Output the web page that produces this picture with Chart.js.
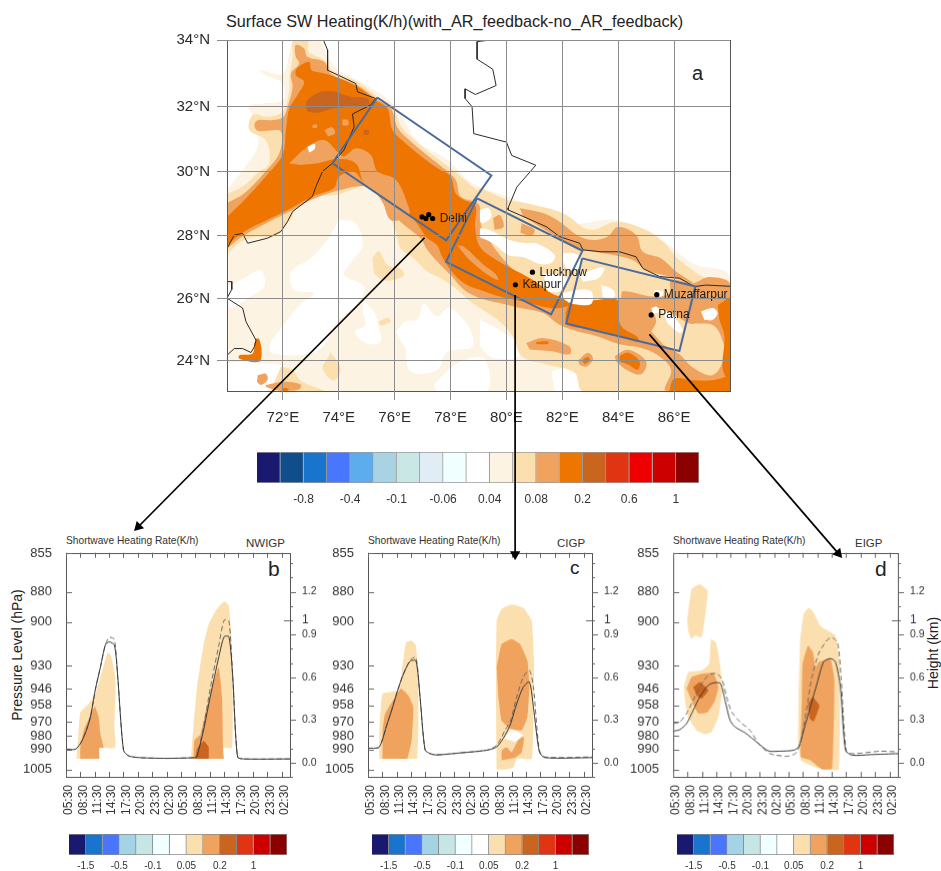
<!DOCTYPE html>
<html><head><meta charset="utf-8">
<script src="https://cdn.jsdelivr.net/npm/chart.js@4"></script>
<style>
html,body{margin:0;padding:0;background:#fff;width:941px;height:871px;overflow:hidden;font-family:"Liberation Sans",Arial,sans-serif;color:#222}
canvas{position:absolute}
.t{position:absolute;white-space:nowrap;line-height:1}
</style></head><body>
<script>
// ---------- palette ----------
const mainColors=['#191970','#104E8B','#1874CD','#4876FF','#5CACEE','#A9D3E3','#C9E8E5','#E1EDF5','#F0FFFF','#FFFFFF','#FDF3E3','#FCDFAE','#F0A35E','#EE7600','#C9651E','#E03412','#EE0000','#CD0000','#8B0000'];
const mainBarLabels=['-0.8','-0.4','-0.1','-0.06','0.04','0.08','0.2','0.6','1'];
const smallColors=['#191970','#1874CD','#4876FF','#A4D3E6','#C6E6E6','#F0FFFF','#FFFFFF','#FCDFAE','#F0A35E','#C9651E','#E03412','#CD0000','#8B0000'];
const smallBarLabels=['-1.5','-0.5','-0.1','0.05','0.2','1'];
const CREAM='#FDF3E3',WHITE='#FFFFFF',LIGHT='#FCDFAE',MID='#F0A35E',ORANGE='#EE7600',DARK='#C9651E';

// ---------- map axes ----------
const lonTicks=[72,74,76,78,80,82,84,86];
const latTicks=[24,26,28,30,32,34];

// ---------- map contours [lon,lat] ----------
const creamBase=[[70,29.45],[70.6,30.1],[71.1,30.8],[71,31.6],[70.5,32.3],[70.5,33],[71.2,33.1],[72,33],[72.3,33.9],[72.4,34],[73.3,34],[73.6,33.5],[74,33.1],[75,32.65],[76.05,32],[76.8,30.97],[77.9,30.37],[78.77,29.66],[80,29.25],[81.1,28.9],[82.35,28.4],[83.95,28.5],[85.43,27.95],[86.67,27.13],[88,26.7],[88,23],[70,23]];
const whiteS1=[[74.01,28.51],[74.61,28.4],[74.85,27.71],[74.37,27.08],[74.19,26.76],[74.9,26.39],[74.73,25.91],[73.95,25.26],[73.36,24.39],[72.52,24.17],[71.51,24.34],[72.11,25.26],[72.67,25.86],[73.12,26.18],[72.4,26.29],[72.29,26.87],[73,27.29],[73.6,27.87]];
const whiteS2=[[70,26.39],[70.62,26.66],[71.21,26.92],[71.33,26.39],[70.74,26.02],[70.14,25.7],[70,25.9]];
const whiteS3=[[74.9,25.91],[75.26,25.58],[75.44,25.04],[75.5,24.61],[75.02,24.55],[74.57,24.93],[74.96,25.15],[74.85,25.53]];
const whiteS4=[[76.04,24.93],[76.4,25.28],[76.81,25.32],[77.05,25.83],[77.52,25.43],[77.94,25.7],[78.65,25.1],[78.77,24.45],[77.88,24.28],[77.52,23.69],[76.57,23.64],[76.39,24.39]];
const whiteS5=[[77.4,23.21],[78.24,23.9],[79.19,24.07],[79.3,23],[77.5,23]];
const whiteS6=[[70,23.9],[70.44,23.96],[71.21,23.9],[71.93,23.85],[72.17,23.69],[71.39,23],[70.68,23],[70,23]];
const whiteS7=[[79.05,25.32],[79.64,25.05],[80.36,24.57],[80.48,24.14],[79.52,24.09],[79.05,24.46]];
const whiteS8=[[81.61,23.65],[82.38,23.75],[82.74,23],[81.73,23]];
const whiteN1=[[70,30],[70,34],[72,34],[71.2,33.1],[72,32.7],[72,32.2],[71.3,32.1],[70.8,32],[70.5,31],[70.4,30.4]];
const lightMain=[[70,29.32],[70.56,29.55],[71.1,29.97],[71.51,30.27],[71.39,30.98],[70.8,31.29],[70.92,31.75],[71.45,31.7],[71.99,31.85],[72.23,32.5],[72.23,32.9],[72.35,33.5],[72.38,34],[72.88,34],[72.94,33.65],[73.48,33.4],[73.77,33.1],[74.67,32.75],[75.38,32.3],[75.92,32],[76.21,31.44],[76.57,31.09],[77.05,30.73],[77.76,30.27],[78.36,29.86],[78.95,29.45],[79.05,29.5],[80,29.14],[80.71,29.03],[82.02,28.72],[82.98,28.19],[83.93,28.45],[85,28.19],[85.6,27.82],[86.19,27.24],[87.14,26.66],[88,26.5],[88,23],[82.74,23],[82.44,23.6],[81.43,23.87],[80.54,24.14],[80.24,24.78],[79.76,25.27],[79.05,25.7],[78.71,25.91],[78.24,26.29],[77.64,26.66],[77.17,26.87],[76.69,27.29],[76.21,27.61],[76.04,28.14],[75.8,28.67],[75.5,29.24],[74.9,29.55],[73.95,29.29],[73.12,29.24],[72.52,28.92],[72.29,28.55],[71.69,27.98],[71.1,27.98],[70.5,27.82],[70,27.42]];
const lightB1=[[75.2,27.29],[75.44,27.52],[75.74,27.08],[76.21,26.97],[76.33,26.74],[75.62,26.58],[75.26,26.82]];
const lightB2=[[75.42,25.26],[75.74,25.39],[75.86,25.26],[75.5,25.12]];
const lightB3=[[73.71,24.28],[74.07,23.74],[73.83,23.34],[73.42,23.74],[73.6,24.07]];
const lightB4=[[71.93,23.8],[72.35,23.69],[72.64,23.34],[73.36,23.06],[73.48,23],[71.57,23]];
const midMain=[[70,29.03],[70.62,29.34],[71.33,29.97],[71.87,30.58],[71.93,31.24],[71.45,31.27],[71.1,31.27],[70.98,31.44],[71.1,31.59],[71.57,31.59],[72,31.68],[72.17,32],[72.35,32.6],[72.29,33],[72.58,33.3],[72.46,33.5],[72.46,33.85],[72.76,33.75],[72.88,33.5],[73.48,33.35],[73.71,33],[74.67,32.65],[75.32,32.25],[75.86,31.95],[76.1,31.37],[76.45,31.04],[76.93,30.68],[77.64,30.19],[78.18,29.76],[78.36,29.24],[79,29],[79.1,28.3],[79.29,27.98],[79.76,27.4],[80.24,26.94],[80.83,26.44],[81.73,26.07],[82.26,25.84],[83.1,25.91],[84.05,25.99],[84.17,26.24],[85.24,26.07],[85.83,26.18],[85.89,26.6],[86.67,26.5],[87.26,26.7],[88,26.45],[88,23],[85.71,23],[85.89,23.7],[85.36,24.2],[84.76,24.42],[84.05,24.53],[83.21,24.8],[82.5,24.96],[81.85,25.19],[81.31,25.54],[80.48,25.7],[79.76,25.86],[79.05,26.02],[78.48,26.29],[78,26.76],[77.64,27.08],[77.17,27.56],[76.93,27.93],[76.57,28.19],[76.21,28.45],[75.98,28.67],[75.86,28.55],[75.5,29.15],[75.02,29.55],[73.95,29.42],[73.06,29.15],[72.23,28.76],[71.51,28.45],[70.62,28.03],[70,27.6]];
const midHills=[[80.48,28.87],[81.31,28.72],[81.9,28.45],[82.62,27.98],[83.15,27.87],[83.63,27.98],[83.99,28.29],[84.64,28.03],[84.88,27.5],[85.54,27.29],[86.07,26.87],[86.67,26.5],[85.83,26.71],[85,26.92],[84.52,27.24],[83.81,27.4],[83.1,27.5],[82.5,27.6],[81.79,27.98],[81.19,28.29],[80.6,28.61]];
const midB1=[[83.87,24.14],[84.35,24.35],[85,23.97],[84.82,23.55],[84.29,23.7],[83.93,23.97]];
const midB2=[[80.71,24.57],[81.31,24.73],[82.26,24.46],[82.26,24.2],[81.61,24.3],[80.83,24.36]];
const midB3=[[82.56,24],[82.92,24.25],[83.1,24.05],[82.86,23.8],[82.62,23.85]];
const midB4=[[79.52,28.56],[79.76,28.66],[79.9,28.29],[79.58,28.19]];
const midB5=[[80.54,28.4],[81,28.2],[80.9,28],[80.5,28.1]];
const midB6=[[71.1,23.52],[71.39,23.57],[71.45,23.36],[71.21,23.2],[71.07,23.3]];
const midB7=[[71.39,23.2],[72.05,23.3],[72.64,23.21],[72.58,23.05],[71.93,23],[71.39,23.13]];
const lightEast=[[85.18,24.95],[85.36,25.27],[85.24,25.7],[85.71,25.62],[86.55,25.2],[86.79,25.2],[87.38,25.15],[87.68,24.78],[87.8,24.14],[87.38,23.52],[86.67,23.77],[86.19,24.2],[85.6,24.52]];
const orangeMain=[[70,28.6],[70.62,29.13],[71.45,29.92],[71.99,30.53],[72.11,31.29],[72.23,31.95],[72.52,32.35],[72.76,32.75],[72.46,32.95],[72.5,33.15],[72.94,33.35],[73.02,33.1],[73.24,33.05],[73.71,32.95],[74.67,32.6],[75.26,32.22],[75.74,31.95],[75.92,31.29],[76.33,30.93],[76.81,30.58],[77.52,30.12],[78,29.86],[78.18,29.34],[78.48,29.13],[78.89,28.96],[78.88,28.3],[79.05,27.66],[79.64,27.24],[80.12,27],[80.95,26.6],[81.61,26.18],[82.02,26.02],[82.26,25.8],[81.61,25.7],[80.6,25.91],[79.76,26.07],[79.23,26.23],[78.48,26.5],[78,26.92],[77.7,27.34],[77.52,27.71],[77.17,27.93],[76.99,28.14],[76.75,28.45],[76.51,28.67],[75.86,28.56],[75.5,29.24],[74.9,29.65],[74.55,30],[74.01,29.86],[73.83,29.5],[73.06,29.24],[72.17,28.82],[71.45,28.51],[70.62,28.14],[70,27.71]];
const orangeBlock=[[82.26,25.95],[83.1,25.95],[83.95,25.97],[84.02,25.32],[84.17,25.05],[84.67,24.78],[84.74,24.6],[83.93,24.83],[83.21,25],[82.17,25.16],[82.12,25.54]];
const orangeEast=[[87.56,25.8],[88,25.97],[88,23.3],[87.74,23.73],[87.8,24.78],[87.62,25.32]];
const orangeSE=[[85.83,23],[86,23.4],[86.67,23.35],[87.38,23.35],[88,23.45],[88,23]];
const orangeB1=[[84.05,24.15],[84.35,24.25],[84.76,23.98],[84.7,23.7],[84.35,23.87],[84.05,23.97]];
const orangeB2=[[81.07,24.6],[81.49,24.62],[81.49,24.54],[81.07,24.54]];
const orangeB3=[[82.7,24],[82.92,24.12],[82.98,24],[82.8,23.88]];
const orangeSW=[[71.04,24.72],[71.15,24.7],[71.24,24.28],[71.15,23.96],[70.44,24.06],[70.44,24.17],[70.92,24.23],[70.98,24.55]];
const orangeSW2=[[71.99,23.1],[72.2,23.08],[72.15,23],[71.99,23]];
const midIsland=[[72.23,30.27],[72.88,30.78],[73.48,30.98],[73.95,30.63],[74.19,30.48],[74.61,30.73],[75.14,30.53],[75.38,30.02],[76.04,29.76],[76.45,29.03],[76.51,28.66],[75.86,28.5],[75.5,29.24],[74.9,29.65],[74.61,30.27],[73.95,30.4],[73.24,30.27],[72.64,30.22]];
const midSpot1=[[74.13,31.61],[74.33,31.59],[74.33,31.44],[74.13,31.44]];
const midSpot2=[[73.48,31.29],[73.77,31.37],[73.87,31.19],[73.62,31.09]];
const midSpot3=[[73.06,31.44],[73.21,31.46],[73.21,31.36],[73.06,31.36]];
const midStripe=[[78.24,27.71],[78.48,27.66],[79.19,27.08],[79.6,26.8],[79.7,26.6],[79.2,26.85],[78.6,27.3]];
const darkIsland=[[72.82,32],[72.88,32.2],[73.36,32.45],[73.83,32.45],[74.43,32.3],[75.02,32.25],[75.08,32.05],[74.43,32],[73.83,31.95],[73.24,31.82],[72.88,31.85]];
const darkSpot=[[74.9,31.31],[75.08,31.27],[75.05,31.14],[74.88,31.17]];
const whiteT1=[[79.05,28.24],[79.4,28.19],[80.12,27.87],[80.71,27.77],[81.07,27.77],[81.73,27.4],[81.61,27.15],[81.19,27.11],[80.65,27.32],[80.06,27.4],[79.52,27.77],[79.05,27.96]];
const whiteT2=[[79.05,28.82],[79.35,28.87],[79.46,28.61],[79.17,28.4],[79.05,28.45]];
const whiteT3=[[82.02,27.47],[82.56,27.4],[82.62,27],[82.2,26.94],[82.02,27.18]];
const whiteT4=[[81.31,26.81],[81.96,26.76],[82.2,26.6],[81.9,26.23],[81.49,26.23]];
const whiteT5=[[82.02,26.18],[82.62,26.29],[83.04,26.23],[83.04,25.84],[82.44,25.82],[82.08,25.97]];
const whiteT6=[[83.39,26.44],[83.81,26.29],[83.87,26.06],[83.45,26.05]];
const whiteT7=[[82.62,26.76],[83.21,26.97],[83.51,26.97],[83.27,26.65],[82.74,26.55]];
const whiteT8=[[85.18,25.7],[85.36,25.75],[85.48,25.6],[85.24,25.5]];
const whiteT9=[[85.54,25.7],[86.01,25.38],[86.31,25],[86.19,24.89],[85.77,25.2]];
const whiteT10=[[86.96,25.59],[87.38,25.7],[87.56,25.54],[87.38,25.32],[87.08,25.32]];
const whiteT11=[[85.3,26.28],[85.6,26.23],[85.54,26.07],[85.3,26.12]];
const whiteT12=[[72.88,30.78],[73.14,30.86],[73.14,30.71],[72.94,30.6]];

// ---------- borders, study boxes, cities ----------
const borderWest=[[73.45,34],[73.6,33.7],[73.6,33.1],[74.61,32.7],[74.67,32.45],[75.32,32.25],[75.14,32.05],[74.49,31.78],[74.55,31.39],[74.19,30.68],[73.77,30.27],[73.42,30.02],[73.18,29.55],[73.06,29.24],[72.35,28.77],[72.17,28.46],[71.93,28.14],[71.45,27.93],[70.74,27.77],[70.56,28.08],[70.26,28.03],[70,27.6]];
const borderSW=[[70,26.55],[70.17,26.55],[70.17,26.3],[70,26.02],[70.56,25.7],[70.68,25.26],[71.04,24.66],[70.98,24.45],[70.86,24.26],[70.56,24.39],[70.26,24.39],[70,24.17]];
const borderNepal=[[79.41,34],[78.95,33.95],[78.95,33.43],[79.51,33.13],[79.63,32.64],[78.89,32.37],[78.52,32.54],[78.52,32.25],[78.77,32],[78.83,31.18],[80,30.92],[80.19,30.51],[81.05,30.21],[80.37,29.53],[80.06,28.88],[80.06,28.82],[80.48,28.66],[81.43,28.29],[81.9,27.98],[82.62,27.77],[82.74,27.56],[83.39,27.5],[84.05,27.5],[84.64,27.34],[84.88,26.97],[85.48,26.71],[86.19,26.66],[86.73,26.39],[87.14,26.44],[88,26.4]];
const boxNW=[[75.38,32.28],[79.46,29.89],[77.84,27.86],[73.77,30.27],[75.38,32.28]];
const boxC=[[78.95,29.18],[82.72,27.53],[81.6,25.5],[77.84,27.18],[78.95,29.18]];
const boxE=[[82.71,27.29],[86.76,26.39],[86.19,24.31],[82.14,25.2],[82.71,27.29]];
const cityLon=[76.98,77.12,77.22,77.36,80.93,80.32,85.38,85.18];
const cityLat=[28.6,28.55,28.67,28.55,26.85,26.45,26.13,25.48];
const cityNames=['','','','Delhi','Lucknow','Kanpur','Muzaffarpur','Patna'];

// ---------- profile panels ----------
const timeLabels=['05:30','08:30','11:30','14:30','17:30','20:30','23:30','02:30','05:30','08:30','11:30','14:30','17:30','20:30','23:30','02:30'];
const hourTicks=[0,3,6,9,12,15,18,21,24,27,30,33,36,39,42,45];
const pressureTicks=[855,880,900,930,946,958,970,980,990,1005];
const heightLabelled=[0,0.3,0.6,0.9,1,1.2];
const heightMinor=[-0.1,0,0.1,0.2,0.3,0.4,0.5,0.6,0.7,0.8,0.9,1.1,1.2,1.3,1.4];

const bLight1=[[2.16,996.9],[2.44,985.8],[2.99,962.9],[4.73,956.8],[6.12,949.6],[7.17,937.9],[8.7,920.7],[9.39,923],[10.3,937.9],[10.3,952],[10.09,973.7],[10.3,988.8],[6.96,988.8],[6.96,996.9]];
const bMid1=[[2.99,996.9],[2.99,988.3],[3.69,976],[4.73,967.7],[5.98,958.7],[6.82,966.4],[7.17,978.4],[7.86,988.8],[6.96,988.8],[6.96,996.9]];
const bLight2=[[26.1,996.9],[26.3,985.8],[27.35,944.8],[28.74,915],[29.78,901.4],[31.52,891.2],[33.06,886.2],[33.96,888.9],[34.45,905.9],[34.8,952],[34.66,988.8],[32.78,988.8],[32.92,996.9]];
const bMid2=[[26.65,996.9],[26.79,983.3],[28.04,979],[28.88,966.4],[30.48,944.8],[31.87,931],[32.57,952],[32.78,988.8],[32.92,996.9]];
const bDark2=[[27,996.9],[27.35,989.5],[28.74,983.8],[29.78,988.3],[29.78,996.9]];
const bHours=[0,1.95,3,4,5.1,6.1,7.2,8.2,9,10.1,10.8,12,13.1,15.5,21.1,26.9,27.3,28.7,30.1,31.9,33,34,34.8,35.8,37.1,46.8];
const bSolidKm=[0.094,0.094,0.134,0.204,0.321,0.509,0.673,0.825,0.848,0.825,0.602,0.087,0.047,0.035,0.03,0.035,0.04,0.227,0.462,0.743,0.884,0.884,0.602,0.04,0.026,0.026];
const bDashKm=[0.094,0.094,0.134,0.204,0.321,0.509,0.673,0.825,0.879,0.865,0.602,0.087,0.047,0.035,0.03,0.035,0.04,0.251,0.52,0.825,1,0.996,0.602,0.04,0.026,0.026];

const cLight1=[[2.37,996.9],[2.37,976],[2.85,952],[3.2,949.1],[4.59,948.4],[6.33,947.2],[7.03,934.4],[7.93,913.9],[9.12,912.7],[10.02,916.1],[10.51,940.2],[10.51,976],[10.3,996.9]];
const cMid1=[[3.06,996.9],[3.06,976],[3.55,964.1],[5.64,952],[6.89,946],[8.42,950.9],[9.46,959.2],[9.12,983.3],[8.21,996.9]];
const cLight2=[[26.86,1005],[26.72,952],[26.86,899.1],[27.9,891.2],[29.99,888.3],[32.43,890.5],[34.17,899.1],[34.66,928.6],[34.52,966.4],[34.17,996.9],[31.04,996.9],[30.34,1003.5],[28.6,1005]];
const cMid2=[[26.86,931],[27.9,915],[29.99,911.6],[31.73,915],[33.26,926.4],[33.68,944.8],[33.26,966.4],[32.08,976],[29.65,974.8],[27.9,969],[27.21,952]];
const cMid3=[[27.9,998],[27.9,990.7],[28.95,988.3],[29.99,992],[31.73,980.7],[32.57,981.2],[32.08,992],[30.69,996.2]];
const cWhite=[[28.46,981.9],[29.99,975.3],[32.43,979.5],[30.69,984.5],[29.99,983.8]];
const cHours=[0,2.16,2.85,3.9,4.94,5.98,7.03,8.07,8.91,10.02,10.86,11.9,12.94,14.34,19.21,24.77,26.86,28.6,29.78,31.04,32.43,33.68,34.52,35.77,36.95,46.83];
const cSolidKm=[0.101,0.105,0.145,0.262,0.368,0.485,0.591,0.673,0.715,0.715,0.462,0.091,0.063,0.054,0.068,0.087,0.11,0.192,0.274,0.415,0.532,0.567,0.391,0.075,0.035,0.035];
const cDashKm=[0.101,0.105,0.145,0.262,0.368,0.485,0.591,0.673,0.724,0.738,0.462,0.091,0.063,0.054,0.068,0.087,0.122,0.227,0.298,0.462,0.602,0.649,0.532,0.087,0.04,0.04];

const dLightTop=[[2.92,899.1],[3.83,878.2],[5.57,874.9],[7.17,879.3],[6.61,897],[5.92,910.4],[4.52,909.2],[3.83,911.6],[3.13,905.9]];
const dLight1=[[2.23,944.8],[3.13,934.4],[5.92,933.3],[7.52,928.6],[7.86,911.6],[8.91,913.9],[9.74,928.6],[10.23,947.2],[9.39,966.4],[7.99,977.2],[6.61,978.8],[4.87,976],[3.13,966.4],[2.44,954.4]];
const dMid1=[[2.78,946],[3.83,937.9],[5.92,935.6],[8.35,935],[9.39,944.8],[8.7,954.4],[7.1,962.9],[5.22,963.6],[3.83,954.4]];
const dDark1=[[4.18,944.8],[5.57,941.3],[7.31,947.2],[5.92,953.2],[4.87,950.9]];
const dLight2=[[26.1,952],[26.44,912.7],[27.14,894.7],[28.18,890.5],[29.23,893.6],[30.62,902.7],[33.75,909.2],[34.66,928.6],[34.45,1004.8],[30.97,1004.8],[28.53,1001.9],[26.58,998],[25.96,985]];
const dMid2=[[26.79,952],[26.93,928.6],[28.04,916.1],[29.09,920.7],[29.58,931],[30.27,927.4],[32.71,925.2],[33.54,940.2],[33.05,1004.3],[30.97,1004.8],[28.53,998],[26.58,995.7],[26.58,976]];
const dDark2=[[28.04,956.8],[29.02,952],[30.41,958],[29.23,969.5],[28.39,967.5]];
const dSolidHours=[0,1.39,2.78,4.18,5.57,7.31,8.7,9.88,10.79,11.83,12.87,14.96,17.75,19.83,22.27,25.05,26.1,27.14,28.53,29.92,31.32,32.71,33.75,34.79,35.84,37.23,41.06,46.83];
const dSolidKm=[0.22,0.232,0.274,0.368,0.462,0.544,0.562,0.555,0.438,0.298,0.251,0.209,0.134,0.082,0.08,0.087,0.11,0.227,0.391,0.555,0.708,0.731,0.708,0.532,0.087,0.052,0.056,0.063];
const dDashHours=[0,1.39,2.78,4.18,5.57,7.31,8.91,10.09,11.13,12.18,13.92,16,17.75,20.18,23.66,25.4,26.44,27.49,28.88,30.27,32.02,33.06,34.24,34.93,36.05,37.58,43.14,46.83];
const dDashKm=[0.274,0.286,0.345,0.438,0.532,0.614,0.626,0.591,0.462,0.356,0.286,0.227,0.134,0.063,0.045,0.063,0.134,0.321,0.602,0.766,0.86,0.879,0.837,0.602,0.075,0.063,0.08,0.075];

// ---------- pointer arrows between panels (page units) ----------
const arrowNW={x:[424,134],y:[235,528],angle:225};
const arrowC={x:[515.7,515.7],y:[293,556],angle:180};
const arrowE={x:[651.7,843],y:[333,555],angle:139};

// ---------- helpers ----------
const FONT='"Liberation Sans",Arial,sans-serif';
const merc=lat=>Math.asinh(Math.tan(lat*Math.PI/180));
function makeCanvas(l,t,w,h,z){
  const c=document.createElement('canvas');
  c.style.left=l+'px';c.style.top=t+'px';c.style.width=w+'px';c.style.height=h+'px';c.style.zIndex=z||1;
  c.width=w;c.height=h;document.body.appendChild(c);return c.getContext('2d');
}
function text(s,l,t,size,extra){
  const d=document.createElement('div');d.className='t';d.textContent=s;
  d.style.left=l+'px';d.style.top=t+'px';d.style.fontSize=size+'px';
  if(extra)Object.assign(d.style,extra);
  document.body.appendChild(d);return d;
}
const baseOpts={responsive:false,animation:false,events:[],plugins:{legend:{display:false},tooltip:{enabled:false},title:{display:false}}};
const noPadY=s=>{s.paddingTop=0;s.paddingBottom=0;};
const noPadX=s=>{s.paddingLeft=0;s.paddingRight=0;};

// ---------- map ----------
const mapLayers=[
 [creamBase,CREAM],[whiteN1,WHITE],[whiteS1,WHITE],[whiteS2,WHITE],[whiteS3,WHITE],[whiteS4,WHITE],[whiteS5,WHITE],[whiteS6,WHITE],[whiteS7,WHITE],[whiteS8,WHITE],
 [lightMain,LIGHT],[lightB1,LIGHT],[lightB2,LIGHT],[lightB3,LIGHT],[lightB4,LIGHT],
 [midMain,MID],[midHills,MID],[midB1,MID],[midB2,MID],[midB3,MID],[midB4,MID],[midB5,MID],[midB6,MID],[midB7,MID],
 [lightEast,LIGHT],
 [orangeMain,ORANGE],[orangeBlock,ORANGE],[orangeEast,ORANGE],[orangeSE,ORANGE],[orangeB1,ORANGE],[orangeB2,ORANGE],[orangeB3,ORANGE],[orangeSW,ORANGE],[orangeSW2,ORANGE],
 [midIsland,MID],[midSpot1,MID],[midSpot2,MID],[midSpot3,MID],[midStripe,MID],
 [darkIsland,DARK],[darkSpot,DARK],
 [whiteT1,WHITE],[whiteT2,WHITE],[whiteT3,WHITE],[whiteT4,WHITE],[whiteT5,WHITE],[whiteT6,WHITE],[whiteT7,WHITE],[whiteT8,WHITE],[whiteT9,WHITE],[whiteT10,WHITE],[whiteT11,WHITE],[whiteT12,WHITE]
];
const toXY=a=>a.map(p=>({x:p[0],y:merc(p[1])}));
const mapSets=[];
mapLayers.forEach(([poly,col])=>mapSets.push({data:toXY(poly),showLine:true,fill:'shape',backgroundColor:col,borderWidth:0,pointRadius:0,tension:0.35}));
[borderWest,borderSW,borderNepal].forEach(b=>mapSets.push({data:toXY(b),showLine:true,fill:false,borderColor:'#2a2a2a',borderWidth:1,pointRadius:0,tension:0}));
[boxNW,boxC,boxE].forEach(b=>mapSets.push({data:toXY(b),showLine:true,fill:false,borderColor:'#4A6A9E',borderWidth:2,pointRadius:0,tension:0}));
mapSets.push({data:cityLon.map((x,i)=>({x,y:merc(cityLat[i])})),showLine:false,pointRadius:2.6,pointBackgroundColor:'#000',pointBorderWidth:0});
mapSets.forEach((d,i)=>d.order=mapSets.length-i);

const frame={id:'frame',afterDatasetsDraw(ch){const a=ch.chartArea,c=ch.ctx;c.save();c.strokeStyle='#555';c.lineWidth=1;c.strokeRect(Math.round(a.left)+.5,Math.round(a.top)+.5,Math.round(a.width),Math.round(a.height));c.restore();}};
const cityText={id:'cityText',afterDatasetsDraw(ch){const c=ch.ctx,xs=ch.scales.x,ys=ch.scales.y;c.save();c.font='12px '+FONT;c.fillStyle='#1a1a1a';c.textBaseline='middle';
 cityNames.forEach((n,i)=>{if(n)c.fillText(n,xs.getPixelForValue(cityLon[i])+7,ys.getPixelForValue(merc(cityLat[i])));});c.restore();}};

const mapL=227,mapT=40,mapW=503,mapH=351,cL=165,cT=28;
new Chart(makeCanvas(cL,cT,mapL+mapW+15-cL,mapT+mapH+45-cT),{type:'scatter',data:{datasets:mapSets},plugins:[frame,cityText],options:{...baseOpts,
 layout:{padding:{top:mapT-cT,right:15,left:0,bottom:0}},
 scales:{
  x:{type:'linear',min:70,max:88,afterBuildTicks:s=>{s.ticks=lonTicks.map(v=>({value:v}));},afterFit:s=>{s.height=45;noPadX(s);},
     grid:{color:'#8c8c8c',lineWidth:1,tickLength:9,z:1},border:{display:false},
     ticks:{autoSkip:false,maxRotation:0,padding:9,font:{family:FONT,size:15},color:'#2a2a2a',callback:v=>v+'°E'}},
  y:{type:'linear',min:merc(23),max:merc(34),afterBuildTicks:s=>{s.ticks=latTicks.map(v=>({value:merc(v)}));},afterFit:s=>{s.width=mapL-cL;noPadY(s);},
     grid:{color:'#8c8c8c',lineWidth:1,tickLength:10,z:1},border:{display:false},
     ticks:{autoSkip:false,padding:7,font:{family:FONT,size:15},color:'#2a2a2a',callback:(v,i)=>latTicks[i]+'°N'}}
 }}});

// ---------- colour bars ----------
function colorBar(left,top,width,height,colors,labels,firstTick,size,gap,bcol){
  const pad=24,foot=gap+size+6;
  new Chart(makeCanvas(left-pad,top,width+2*pad,height+foot),{type:'bar',
   data:{labels:[''],datasets:colors.map(c=>({data:[1],backgroundColor:c,borderColor:bcol,borderWidth:1,barPercentage:1,categoryPercentage:1}))},
   options:{...baseOpts,indexAxis:'y',layout:{padding:{left:pad,right:pad,top:0,bottom:0}},
    scales:{y:{stacked:true,display:false},
     x:{stacked:true,type:'linear',min:0,max:colors.length,afterBuildTicks:s=>{s.ticks=labels.map((l,i)=>({value:firstTick+2*i}));},afterFit:s=>{s.height=foot;noPadX(s);},
        grid:{display:false,drawTicks:false},border:{display:false},
        ticks:{autoSkip:false,maxRotation:0,padding:gap,font:{family:FONT,size},color:'#333',callback:(v,i)=>labels[i]}}}}});
}
colorBar(257,452,442,31,mainColors,mainBarLabels,2,12,9,'#9a9a9a');
colorBar(69,834,218,21,smallColors,smallBarLabels,1,10,5,'#888');
colorBar(372,834,217,21,smallColors,smallBarLabels,1,10,5,'#888');
colorBar(677,834,217,21,smallColors,smallBarLabels,1,10,5,'#888');

// ---------- profile panels ----------
const panelTicks={id:'panelTicks',afterDatasetsDraw(ch){
  const c=ch.ctx,a=ch.chartArea,x=ch.scales.x,y=ch.scales.y,k=ch.scales.km;
  c.save();c.strokeStyle='#666';c.lineWidth=1;c.beginPath();
  hourTicks.forEach(h=>{const p=Math.round(x.getPixelForValue(h))+.5;c.moveTo(p,a.bottom);c.lineTo(p,a.bottom-5);c.moveTo(p,a.top);c.lineTo(p,a.top+5);});
  pressureTicks.forEach(v=>{const p=Math.round(y.getPixelForValue(v))+.5;c.moveTo(a.left,p);c.lineTo(a.left+6,p);});
  heightMinor.forEach(v=>{const p=Math.round(k.getPixelForValue(v))+.5;const lab=heightLabelled.includes(v);c.moveTo(a.right,p);c.lineTo(a.right+(lab?6:3),p);});
  const one=Math.round(k.getPixelForValue(1))+.5;c.moveTo(a.right-6,one);c.lineTo(a.right+3,one);
  c.stroke();c.restore();}};
function panel(plotLeft,polys,lines){
  const top=552.7,h=224,w=224.3,mL=50,mR=45,foot=50,cTop=540;
  const sets=[];
  polys.forEach(([p,col])=>sets.push({data:p.map(q=>({x:q[0],y:q[1]})),yAxisID:'y',showLine:true,fill:'shape',backgroundColor:col,borderWidth:0,pointRadius:0,tension:0.12}));
  lines.forEach(([hrs,km,dash,col])=>sets.push({data:hrs.map((t,i)=>({x:t,y:km[i]})),yAxisID:'km',showLine:true,fill:false,borderColor:col,borderWidth:1,borderDash:dash,pointRadius:0,tension:0.25}));
  sets.forEach((d,i)=>d.order=sets.length-i);
  new Chart(makeCanvas(plotLeft-mL,cTop,mL+w+mR,top-cTop+h+foot),{type:'scatter',data:{datasets:sets},plugins:[frame,panelTicks],options:{...baseOpts,
   layout:{padding:{top:top-cTop,right:0,left:0,bottom:0}},
   scales:{
    x:{type:'linear',min:0,max:46.75,afterBuildTicks:s=>{s.ticks=hourTicks.map(v=>({value:v}));},afterFit:s=>{s.height=foot;noPadX(s);},
       grid:{display:false,drawTicks:false},border:{display:false},
       ticks:{autoSkip:false,minRotation:90,maxRotation:90,padding:8,labelOffset:3,font:{family:FONT,size:12},color:'#333',callback:(v,i)=>timeLabels[i]}},
    y:{type:'logarithmic',reverse:true,min:854.6,max:1010.5,position:'left',afterBuildTicks:s=>{s.ticks=pressureTicks.map(v=>({value:v}));},afterFit:s=>{s.width=mL;noPadY(s);},
       grid:{display:false,drawTicks:false},border:{display:false},
       ticks:{autoSkip:false,padding:14,font:{family:FONT,size:13},color:'#333',callback:v=>String(v)}},
    km:{type:'linear',min:-0.1,max:1.474,position:'right',afterBuildTicks:s=>{s.ticks=heightLabelled.map(v=>({value:v}));},afterFit:s=>{s.width=mR;noPadY(s);},
       grid:{display:false,drawTicks:false},border:{display:false},
       ticks:{autoSkip:false,padding:12,font:c=>({family:FONT,size:c.tick&&c.tick.value===1?12:10.5}),color:'#333',callback:v=>(v===1?'1':v.toFixed(1))}}
   }}});
}
const SOLID='#3a3a3a',DASH='#6a6a6a',DASHES=[5,3];
panel(65.7,[[bLight1,LIGHT],[bMid1,MID],[bLight2,LIGHT],[bMid2,MID],[bDark2,DARK]],[[bHours,bDashKm,DASHES,DASH],[bHours,bSolidKm,[],SOLID]]);
panel(368,[[cLight1,LIGHT],[cMid1,MID],[cLight2,LIGHT],[cMid2,MID],[cMid3,MID],[cWhite,WHITE]],[[cHours,cDashKm,DASHES,DASH],[cHours,cSolidKm,[],SOLID]]);
panel(673.3,[[dLightTop,LIGHT],[dLight1,LIGHT],[dMid1,MID],[dDark1,DARK],[dLight2,LIGHT],[dMid2,MID],[dDark2,DARK]],[[dDashHours,dDashKm,DASHES,DASH],[dSolidHours,dSolidKm,[],SOLID]]);

// ---------- arrows overlay ----------
const arrowSets=[];
[arrowNW,arrowC,arrowE].forEach(a=>{
  arrowSets.push({data:a.x.map((x,i)=>({x,y:a.y[i]})),showLine:true,borderColor:'#000',borderWidth:1.7,tension:0,pointStyle:'triangle',pointRadius:[0,6],pointRotation:a.angle,pointBackgroundColor:'#000',pointBorderColor:'#000',pointBorderWidth:0,clip:false});
});
new Chart(makeCanvas(0,0,941,871,5),{type:'scatter',data:{datasets:arrowSets},options:{...baseOpts,layout:{padding:0},
  scales:{x:{type:'linear',min:0,max:941,display:false},y:{type:'linear',min:0,max:871,reverse:true,display:false}}}});

// ---------- text ----------
text('Surface SW Heating(K/h)(with_AR_feedback-no_AR_feedback)',226,13,16.2);
text('a',692,63,20);
[['b',268,'NWIGP',246,66],['c',570,'CIGP',557,368],['d',875,'EIGP',855,673]].forEach(([l,lx,n,nx,tx])=>{
  text('Shortwave Heating Rate(K/h)',tx,536,10.2,{color:'#333'});
  text(n,nx,538,11.5,{color:'#333'});
  text(l,lx,558,l==='c'?19:21);
});
text('Pressure Level (hPa)',17,655,14,{transform:'translate(-50%,-50%) rotate(-90deg)',color:'#222'});
text('Height (km)',933,653,14,{transform:'translate(-50%,-50%) rotate(-90deg)',color:'#222'});
</script>
</body></html>
